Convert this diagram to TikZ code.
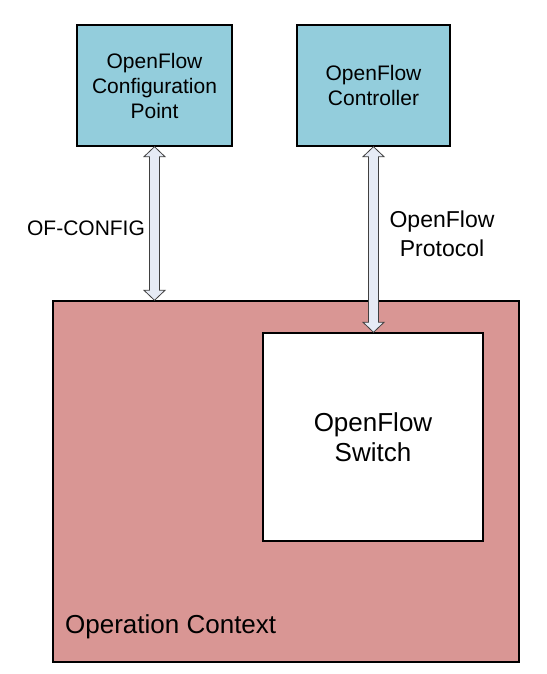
\documentclass[tikz,border=0pt]{standalone}
\usepackage{fontspec}
\setmainfont{Liberation Sans}
\usetikzlibrary{calc}
\definecolor{ofteal}{HTML}{93CDDC}
\definecolor{ofpink}{HTML}{D99694}
\definecolor{ofarrow}{HTML}{E6EBF5}
\tikzstyle{bx}=[rectangle,draw=black,line width=1.4pt,align=center,inner sep=0pt]
\tikzstyle{ofbox}=[bx,fill=ofteal,font=\fontsize{21}{25}\selectfont]
\tikzstyle{lbl}=[align=center,inner sep=0pt]
\tikzstyle{blockarr}=[draw=black!75,line width=0.8pt,fill=ofarrow,line join=miter]
\newcommand{\blockarrow}[2]{%
\draw[blockarr] (#1) -- ($(#1)+(10.5,10)$) -- ($(#1)+(5,10)$) -- ($(#2)+(5,-10)$)
 -- ($(#2)+(10.5,-10)$) -- (#2) -- ($(#2)+(-10.5,-10)$) -- ($(#2)+(-5,-10)$)
 -- ($(#1)+(-5,10)$) -- ($(#1)+(-10.5,10)$) -- cycle;}

\begin{document}
\begin{tikzpicture}[x=1pt,y=-1pt]
\useasboundingbox (0,0) rectangle (546,674);
\node[bx,fill=ofpink,minimum width=466pt,minimum height=361pt] (ctx) at (286,481.5) {};
\node[lbl,anchor=base west,font=\fontsize{26}{30}\selectfont] (ctxlbl) at (65,633) {Operation Context};
\node[bx,fill=white,minimum width=220pt,minimum height=208pt,font=\fontsize{26}{30}\selectfont] (sw) at (373,437) {OpenFlow\\Switch};
\node[ofbox,minimum width=155pt,minimum height=121pt] (cfg) at (154.5,85.5) {OpenFlow\\Configuration\\Point};
\node[ofbox,minimum width=153pt,minimum height=121pt] (ctl) at (373.5,85.5) {OpenFlow\\Controller};
\coordinate (cfgend) at (cfg.south |- ctx.north);
\coordinate (ctlend) at (ctl.south |- sw.north);
\blockarrow{cfg.south}{cfgend}
\blockarrow{ctl.south}{ctlend}
\node[lbl,font=\fontsize{21}{25}\selectfont] (cfglbl) at (86,228) {OF-CONFIG};
\node[lbl,font=\fontsize{23}{29}\selectfont] (ctllbl) at (442,234) {OpenFlow\\Protocol};
\end{tikzpicture}
\end{document}
